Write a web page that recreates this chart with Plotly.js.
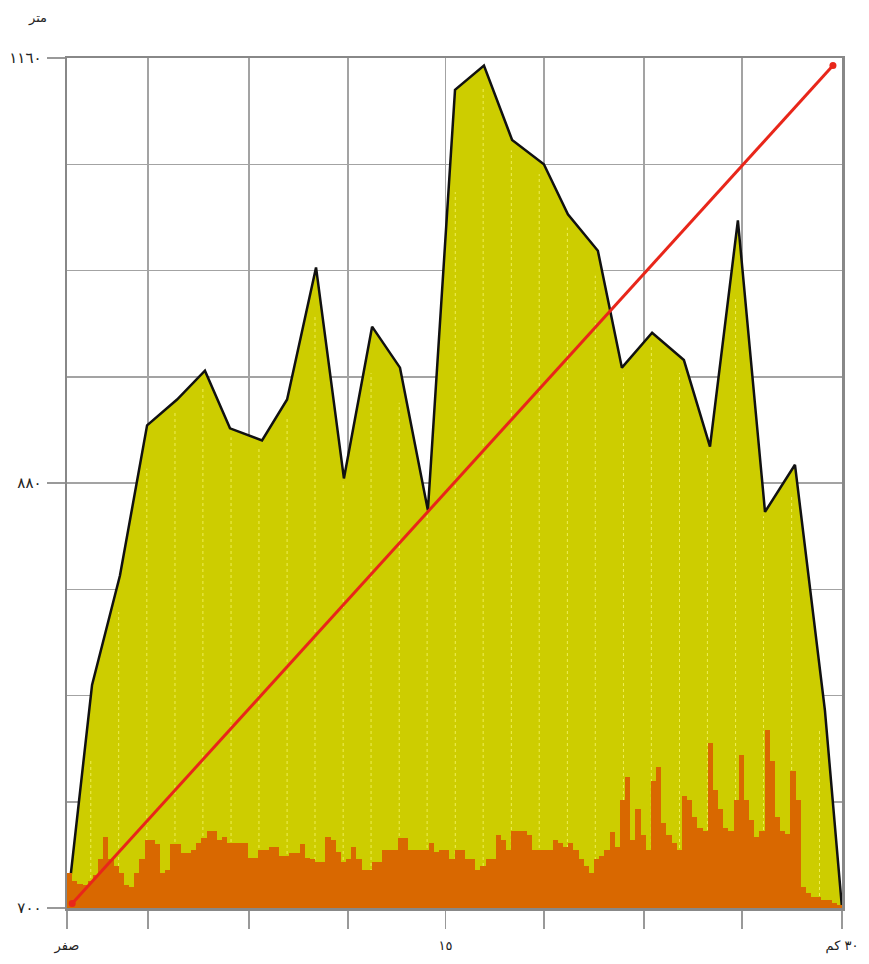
<!DOCTYPE html>
<html>
<head>
<meta charset="utf-8">
<script src="https://cdn.plot.ly/plotly-3.0.1.min.js"></script>
<style>html,body{margin:0;padding:0;background:#fff;}#chart{width:869px;height:964px;}</style>
</head>
<body>
<div id="chart"></div>
<script>
// Elevation profile (km, metres)
const elevKm = [0, 0.97, 2.05, 3.10, 4.26, 5.34, 6.31, 7.55, 8.52, 9.64, 10.72, 11.81, 12.89, 13.97, 15.02, 16.14, 17.23, 18.46, 19.39, 20.55, 21.48, 22.65, 23.88, 24.89, 25.97, 27.02, 28.18, 29.34, 30];
const elevM  = [600, 747, 819, 918, 935, 954, 916, 908, 935, 1022, 883, 983, 956, 862, 1139, 1155, 1106, 1090, 1057, 1033, 956, 979, 961, 904, 1053, 861, 892, 730, 600];

// Orange bars (height above base, m), 0.2 km bins
const binWidthKm = 0.2;
const barHeights = [
 23,18,16,15,18,22,32,47,32,28, 23,15,14,23,32,45,45,42,23,25,
 42,42,36,36,38,43,46,51,51,45, 47,43,43,43,43,33,33,38,38,40,
 40,34,34,36,36,42,33,32,30,30, 47,45,37,30,32,40,32,25,25,30,
 30,38,38,38,46,46,38,38,38,38, 43,37,38,38,32,38,38,32,32,25,
 28,32,32,48,45,38,51,51,51,48, 38,38,38,38,45,43,40,43,38,32,
 28,23,32,34,38,50,40,71,86,45, 65,48,38,84,93,56,48,43,38,74,
 71,60,53,51,109,78,65,53,51,71, 101,71,58,47,51,117,97,60,51,49,
 90,71,14,10,7,7,5,5,3,2
];
const barBase = 600;

// Straight red line
const lineKm = [0.2, 29.65];
const lineM  = [603, 1155];

// Axis ticks
const xTickVals = [0, 3.14, 7.04, 10.88, 14.65, 18.46, 22.33, 26.13, 30];
const xTickText = ['صفر', '', '', '', '١٥', '', '', '', '٣٠ كم'];
const yTickVals = [600, 880, 1160];
const yTickText = ['٧٠٠', '٨٨٠', '١١٦٠'];
const yMinorVals = [670, 740, 810, 950, 1020, 1090];
const yUnit = 'متر';

// Light dotted verticals inside the profile
const dotKm = [0.92, 2.0, 3.09, 4.18, 5.26, 6.35, 7.43, 8.52, 9.6, 10.69, 11.77, 12.86, 13.94, 15.03, 16.11, 17.2, 18.28, 19.37, 20.45, 21.54, 22.62, 23.71, 24.79, 25.88, 26.96, 28.05, 29.13];

function interpElev(x) {
  for (let i = 0; i < elevKm.length - 1; i++) {
    if (x >= elevKm[i] && x <= elevKm[i + 1]) {
      const t = (x - elevKm[i]) / (elevKm[i + 1] - elevKm[i]);
      return elevM[i] + t * (elevM[i + 1] - elevM[i]);
    }
  }
  return barBase;
}
function minNear(x) {
  // lowest profile height within a small window, so dots stay under the outline
  let m = Infinity;
  for (let d = -0.25; d <= 0.25; d += 0.05) m = Math.min(m, interpElev(Math.min(30, Math.max(0, x + d))));
  return m;
}
const dotX = [], dotY = [];
dotKm.forEach(k => { dotX.push(k, k, null); dotY.push(barBase, minNear(k) - 4, null); });

const barX = barHeights.map((_, i) => (i + 0.5) * binWidthKm);

const traces = [
  { type: 'scatter', x: elevKm, y: elevM, mode: 'lines', fill: 'tozeroy',
    fillcolor: '#cdcd00', line: { color: '#111', width: 2.5 }, hoverinfo: 'skip', xaxis: 'x', yaxis: 'y' },
  { type: 'scatter', x: dotX, y: dotY, mode: 'lines',
    line: { color: '#eeee55', width: 1, dash: 'dot' }, hoverinfo: 'skip', xaxis: 'x', yaxis: 'y' },
  { type: 'bar', x: barX, y: barHeights, base: barBase, width: binWidthKm,
    marker: { color: '#d96800', line: { width: 0 } }, hoverinfo: 'skip', xaxis: 'x2', yaxis: 'y2' },
  { type: 'scatter', x: lineKm, y: lineM, mode: 'lines+markers',
    line: { color: '#e8261a', width: 3 }, marker: { color: '#e8261a', size: 7 },
    hoverinfo: 'skip', xaxis: 'x2', yaxis: 'y2' }
];

const fontF = 'DejaVu Sans, Noto Sans, sans-serif';
const layout = {
  width: 869, height: 964,
  margin: { l: 67, r: 27, t: 58, b: 56 },
  paper_bgcolor: '#fff', plot_bgcolor: '#fff',
  showlegend: false, bargap: 0,
  font: { family: fontF, size: 13, color: '#333' },
  xaxis: {
    range: [0, 30], tickmode: 'array', tickvals: xTickVals, ticktext: xTickText,
    showgrid: true, gridcolor: '#a3a3a3', gridwidth: 1.5,
    ticks: 'outside', ticklen: 18, tickcolor: '#999', tickwidth: 1.5,
    showline: true, linecolor: '#888', linewidth: 2.5, mirror: true,
    zeroline: false, ticklabelstandoff: 6,
    tickfont: { family: fontF, size: 13, color: '#222' }
  },
  yaxis: {
    range: [600, 1160], tickmode: 'array', tickvals: yTickVals, ticktext: yTickText,
    showgrid: true, gridcolor: '#a3a3a3', gridwidth: 1.5,
    minor: { tickmode: 'array', tickvals: yMinorVals, showgrid: true, gridcolor: '#a3a3a3', gridwidth: 1.5, ticks: '' },
    ticks: 'outside', ticklen: 18, tickcolor: '#999', tickwidth: 1.5,
    showline: true, linecolor: '#888', linewidth: 2.5, mirror: true,
    zeroline: false, ticklabelstandoff: 2,
    tickfont: { family: fontF, size: 15, color: '#222' }
  },
  xaxis2: { range: [0, 30], overlaying: 'x', visible: false, showgrid: false, zeroline: false },
  yaxis2: { range: [600, 1160], overlaying: 'y', visible: false, showgrid: false, zeroline: false },
  annotations: [
    { text: yUnit, xref: 'paper', yref: 'paper', x: -0.038, y: 1.047, xanchor: 'center', yanchor: 'middle',
      showarrow: false, font: { family: fontF, size: 13, color: '#222' } }
  ]
};

Plotly.newPlot('chart', traces, layout, { staticPlot: true, displayModeBar: false });
</script>
</body>
</html>
